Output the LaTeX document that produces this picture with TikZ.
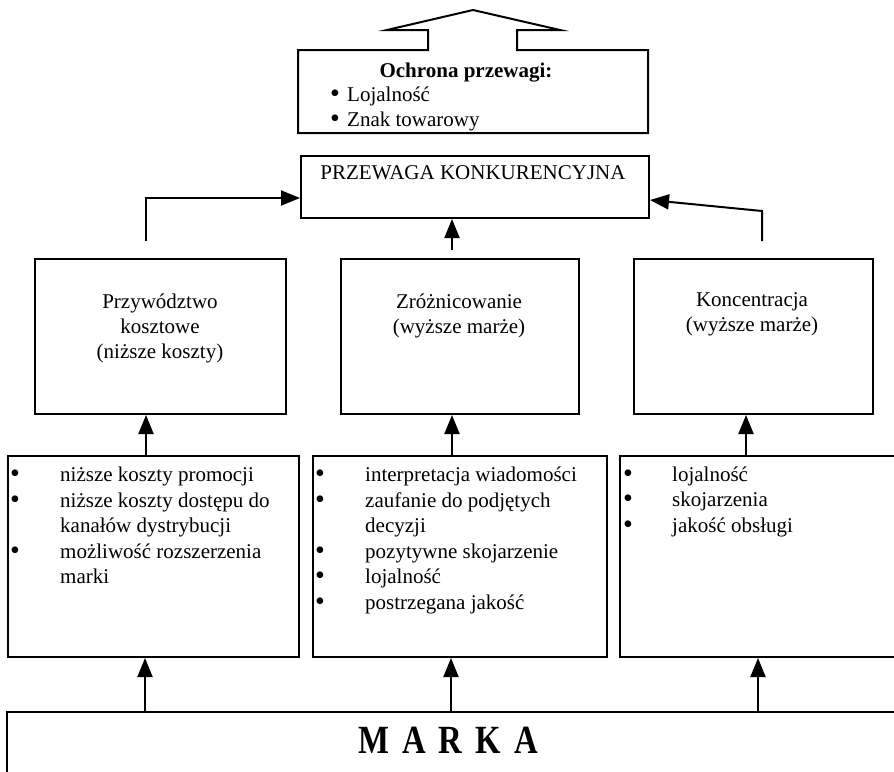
\documentclass[tikz,border=0pt]{standalone}
\usepackage{fontspec}
\setmainfont{Liberation Serif}
\usetikzlibrary{arrows.meta}
\newcommand{\mybul}{\smash{•}}
\begin{document}
\begin{tikzpicture}[x=1pt,y=-1pt,
  box/.style={draw, line width=2pt, inner sep=0pt, anchor=north west},
  outline/.style={draw, line width=2pt, line join=miter},
  conn/.style={line width=2pt, -{Triangle[length=19pt,width=15pt]}},
  txt/.style={font=\fontsize{21}{25.5}\selectfont, inner sep=0pt},
  tl/.style={txt, anchor=base west},
  tc/.style={txt, anchor=base},
  bul/.style={inner sep=0pt, anchor=base, font=\fontsize{28}{28}\selectfont},
]
\clip (0,0) rectangle (894,771);
\fill[white] (0,0) rectangle (894,771);

% protection box with upward arrow
\draw[outline] (298,50) -- (428,50) -- (428,30) -- (387,30) -- (473,10) -- (560,30) -- (517,30) -- (517,50) -- (648,50) -- (648,133) -- (298,133) -- cycle;
\node[tc, font=\bfseries\fontsize{21}{25.5}\selectfont] (toch) at (466,77) {Ochrona przewagi:};
\node[bul] (bo1) at (335,102) {\mybul};
\node[tl] (to1) at (347,101) {Lojalność};
\node[bul] (bo2) at (335,127) {\mybul};
\node[tl] (to2) at (347,126) {Znak towarowy};

% competitive advantage
\node[box, minimum width=348pt, minimum height=62pt] (przewaga) at (300,155) {};
\node[tc] (tprz) at (473,179) {PRZEWAGA KONKURENCYJNA};

% strategy boxes
\node[box, minimum width=251pt, minimum height=155pt] (lead) at (34,258) {};
\node[tc] (tl1) at (160,308) {Przywództwo};
\node[tc] (tl2) at (160,333) {kosztowe};
\node[tc] (tl3) at (160,358) {(niższe koszty)};

\node[box, minimum width=238pt, minimum height=155pt] (diff) at (340,258) {};
\node[tc] (td1) at (459,308) {Zróżnicowanie};
\node[tc] (td2) at (459,333) {(wyższe marże)};

\node[box, minimum width=239pt, minimum height=155pt] (conc) at (633,258) {};
\node[tc] (tc1) at (752,306) {Koncentracja};
\node[tc] (tc2) at (752,331) {(wyższe marże)};

% list boxes
\node[box, minimum width=291pt, minimum height=201pt] (list1) at (7,455) {};
\node[bul] (b11) at (15,482) {\mybul};
\node[tl] (l11) at (60,481) {niższe koszty promocji};
\node[bul] (b12) at (15,508) {\mybul};
\node[tl] (l12) at (60,507) {niższe koszty dostępu do};
\node[tl] (l13) at (60,532) {kanałów dystrybucji};
\node[bul] (b14) at (15,559) {\mybul};
\node[tl] (l14) at (60,558) {możliwość rozszerzenia};
\node[tl] (l15) at (60,583) {marki};

\node[box, minimum width=294pt, minimum height=201pt] (list2) at (312,455) {};
\node[bul] (b21) at (320,482) {\mybul};
\node[tl] (l21) at (365,481) {interpretacja wiadomości};
\node[bul] (b22) at (320,508) {\mybul};
\node[tl] (l22) at (365,507) {zaufanie do podjętych};
\node[tl] (l23) at (365,532) {decyzji};
\node[bul] (b24) at (320,559) {\mybul};
\node[tl] (l24) at (365,558) {pozytywne skojarzenie};
\node[bul] (b25) at (320,584) {\mybul};
\node[tl] (l25) at (365,583) {lojalność};
\node[bul] (b26) at (320,610) {\mybul};
\node[tl] (l26) at (365,609) {postrzegana jakość};

\node[box, minimum width=320pt, minimum height=201pt] (list3) at (619,455) {};
\node[bul] (b31) at (628,482) {\mybul};
\node[tl] (l31) at (672,481) {lojalność};
\node[bul] (b32) at (628,507) {\mybul};
\node[tl] (l32) at (672,506) {skojarzenia};
\node[bul] (b33) at (628,533) {\mybul};
\node[tl] (l33) at (672,532) {jakość obsługi};

% brand
\node[box, minimum width=940pt, minimum height=100pt] (marka) at (6,711) {};
\node[anchor=base, inner sep=0pt, font=\bfseries\fontsize{40}{42}\selectfont\addfontfeatures{FakeStretch=0.82}] (tmarka) at (448,753) {M\hspace{13pt}A\hspace{13pt}R\hspace{13pt}K\hspace{13pt}A};

% helper coordinates
\coordinate (xa) at (146,0);
\coordinate (xb) at (452,0);
\coordinate (xc) at (746,0);
\coordinate (ma) at (145,0);
\coordinate (mb) at (451,0);
\coordinate (mc) at (758,0);
\coordinate (s1) at (146,241);
\coordinate (y1) at (0,198);
\coordinate (s2) at (452,250);
\coordinate (s3) at (762,241);
\coordinate (k3) at (762,211);
\coordinate (y3) at (0,200);

% connectors
\draw[conn] (s1) |- (przewaga.west |- y1);
\draw[conn] (s2) -- (przewaga.south -| s2);
\draw[conn] (s3) -- (k3) -- (przewaga.east |- y3);

\draw[conn] (list1.north -| xa) -- (lead.south -| xa);
\draw[conn] (list2.north -| xb) -- (diff.south -| xb);
\draw[conn] (list3.north -| xc) -- (conc.south -| xc);

\draw[conn] (marka.north -| ma) -- (list1.south -| ma);
\draw[conn] (marka.north -| mb) -- (list2.south -| mb);
\draw[conn] (marka.north -| mc) -- (list3.south -| mc);
\end{tikzpicture}
\end{document}
